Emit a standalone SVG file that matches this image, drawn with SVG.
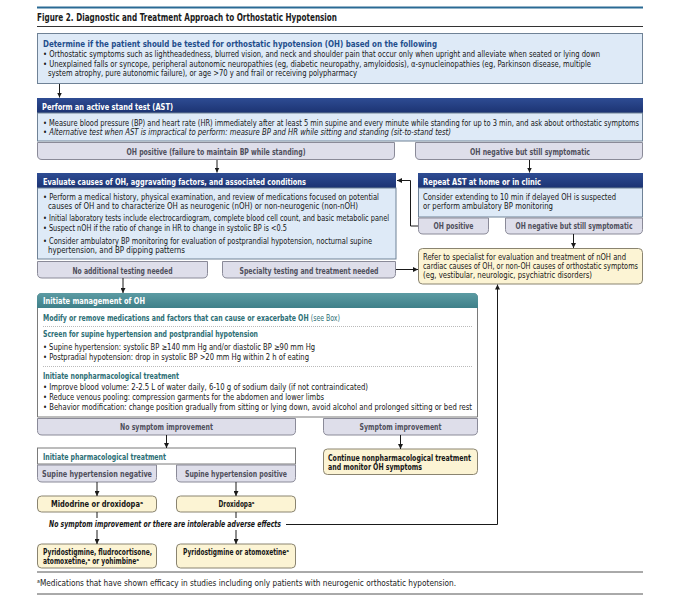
<svg xmlns="http://www.w3.org/2000/svg" width="680" height="610" viewBox="0 0 680 610">
<defs>
<linearGradient id="navy" x1="0" y1="0" x2="0" y2="1"><stop offset="0" stop-color="#2e4c93"/><stop offset="1" stop-color="#1c3372"/></linearGradient>
<linearGradient id="teal" x1="0" y1="0" x2="0" y2="1"><stop offset="0" stop-color="#5c9ba3"/><stop offset="1" stop-color="#3f8089"/></linearGradient>
<marker id="ah" markerWidth="5" markerHeight="5" refX="5" refY="2.5" orient="auto" markerUnits="userSpaceOnUse"><path d="M0,0 L5,2.5 L0,5 Z" fill="#1a1a1a"/></marker>
<style>
text{font-family:"DejaVu Sans Condensed","Liberation Sans Narrow","Liberation Sans",sans-serif;}
.t{font-size:8.2px;fill:#161616;}
.b{font-weight:bold;}
.it{font-style:italic;}
.hw{font-size:9px;font-weight:bold;fill:#ffffff;}
.hb{font-size:9.2px;font-weight:bold;fill:#1f4e8c;}
.tl{font-size:8px;font-weight:bold;fill:#4f4f5c;text-anchor:middle;}
.tg{font-size:8.2px;font-weight:bold;fill:#2d6f76;}
.mid{text-anchor:middle;}
.blue{fill:#deeaf7;stroke:#6f8296;stroke-width:1;}
.tab{fill:#dedeea;stroke:#8a8a98;stroke-width:1;}
.yel{fill:#fcf4d4;stroke:#8a8470;stroke-width:1;}
.wht{fill:#ffffff;stroke:#7a7a7a;stroke-width:1;}
.con{fill:none;stroke:#1a1a1a;stroke-width:1;}
.arr{marker-end:url(#ah);}
.dot{stroke:#a8a8a8;stroke-width:0.8;stroke-dasharray:1,1;}
</style>
</defs>
<rect width="680" height="610" fill="#ffffff"/>

<g id="title">
<line x1="37" y1="7.5" x2="643" y2="7.5" stroke="#2a6a94" stroke-width="1.8"/>
<text x="37" y="20.5" font-size="10" font-weight="bold" fill="#1a1a1a" textLength="300" lengthAdjust="spacingAndGlyphs">Figure 2. Diagnostic and Treatment Approach to Orthostatic Hypotension</text>
<line x1="37" y1="26.5" x2="643" y2="26.5" stroke="#333333" stroke-width="1"/>
</g>

<g id="determine">
<rect class="blue" x="37.5" y="33.5" width="605" height="50"/>
<text class="hb" x="43" y="46.5" textLength="394" lengthAdjust="spacingAndGlyphs">Determine if the patient should be tested for orthostatic hypotension (OH) based on the following</text>
<text class="t" x="43" y="57" textLength="557" lengthAdjust="spacingAndGlyphs">• Orthostatic symptoms such as lightheadedness, blurred vision, and neck and shoulder pain that occur only when upright and alleviate when seated or lying down</text>
<text class="t" x="43" y="66.5" textLength="548" lengthAdjust="spacingAndGlyphs">• Unexplained falls or syncope, peripheral autonomic neuropathies (eg, diabetic neuropathy, amyloidosis), α-synucleinopathies (eg, Parkinson disease, multiple</text>
<text class="t" x="48" y="76" textLength="309" lengthAdjust="spacingAndGlyphs">system atrophy, pure autonomic failure), or age &gt;70 y and frail or receiving polypharmacy</text>
</g>

<g id="ast">
<rect x="37" y="98" width="606" height="15" fill="url(#navy)"/>
<rect class="blue" x="37.5" y="113" width="605" height="28"/>
<text class="hw" x="42" y="109.5" textLength="131" lengthAdjust="spacingAndGlyphs">Perform an active stand test (AST)</text>
<text class="t" x="43" y="126" font-size="7.1" textLength="596" lengthAdjust="spacingAndGlyphs">• Measure blood pressure (BP) and heart rate (HR) immediately after at least 5 min supine and every minute while standing for up to 3 min, and ask about orthostatic symptoms</text>
<text class="t it" x="43" y="135" textLength="408" lengthAdjust="spacingAndGlyphs">• Alternative test when AST is impractical to perform: measure BP and HR while sitting and standing (sit-to-stand test)</text>
</g>

<g id="tab-oh-positive">
<path class="tab" d="M37.5,142.5 H394.5 V155 Q394.5,159.5 390,159.5 H42 Q37.5,159.5 37.5,155 Z"/>
<text class="tl" x="216" y="155" textLength="179" lengthAdjust="spacingAndGlyphs">OH positive (failure to maintain BP while standing)</text>
</g>
<g id="tab-oh-negative">
<path class="tab" d="M415.5,142.5 H642.5 V155 Q642.5,159.5 638,159.5 H420 Q415.5,159.5 415.5,155 Z"/>
<text class="tl" x="530" y="155" textLength="120" lengthAdjust="spacingAndGlyphs">OH negative but still symptomatic</text>
</g>

<g id="evaluate">
<rect x="37" y="173" width="359" height="15" fill="url(#navy)"/>
<rect class="blue" x="37.5" y="188" width="358.5" height="71"/>
<text class="hw" x="43" y="185" textLength="263" lengthAdjust="spacingAndGlyphs">Evaluate causes of OH, aggravating factors, and associated conditions</text>
<text class="t" x="43" y="200" textLength="336" lengthAdjust="spacingAndGlyphs">• Perform a medical history, physical examination, and review of medications focused on potential</text>
<text class="t" x="48" y="209" textLength="310" lengthAdjust="spacingAndGlyphs">causes of OH and to characterize OH as neurogenic (nOH) or non-neurogenic (non-nOH)</text>
<text class="t" x="43" y="221" textLength="346" lengthAdjust="spacingAndGlyphs">• Initial laboratory tests include electrocardiogram, complete blood cell count, and basic metabolic panel</text>
<text class="t" x="43" y="231" textLength="244" lengthAdjust="spacingAndGlyphs">• Suspect nOH if the ratio of change in HR to change in systolic BP is &lt;0.5</text>
<text class="t" x="43" y="244" textLength="329" lengthAdjust="spacingAndGlyphs">• Consider ambulatory BP monitoring for evaluation of postprandial hypotension, nocturnal supine</text>
<text class="t" x="48" y="253" textLength="137" lengthAdjust="spacingAndGlyphs">hypertension, and BP dipping patterns</text>
</g>

<g id="tab-no-additional">
<path class="tab" d="M37.5,261.5 H207.5 V273.5 Q207.5,278 203,278 H42 Q37.5,278 37.5,273.5 Z"/>
<text class="tl" x="122.5" y="274" textLength="100" lengthAdjust="spacingAndGlyphs">No additional testing needed</text>
</g>
<g id="tab-specialty">
<path class="tab" d="M222.5,261.5 H395.5 V273.5 Q395.5,278 391,278 H227 Q222.5,278 222.5,273.5 Z"/>
<text class="tl" x="309" y="274" textLength="139" lengthAdjust="spacingAndGlyphs">Specialty testing and treatment needed</text>
</g>

<g id="repeat-ast">
<rect x="418" y="173" width="225" height="15" fill="url(#navy)"/>
<rect class="blue" x="418.5" y="188" width="224" height="29"/>
<text class="hw" x="423" y="184.5" textLength="118" lengthAdjust="spacingAndGlyphs">Repeat AST at home or in clinic</text>
<text class="t" x="423" y="200" textLength="193" lengthAdjust="spacingAndGlyphs">Consider extending to 10 min if delayed OH is suspected</text>
<text class="t" x="423" y="209" textLength="130" lengthAdjust="spacingAndGlyphs">or perform ambulatory BP monitoring</text>
</g>
<g id="tab-repeat-positive">
<path class="tab" d="M418.5,218 H488.5 V229.5 Q488.5,234 484,234 H423 Q418.5,234 418.5,229.5 Z"/>
<text class="tl" x="453.5" y="229" textLength="40" lengthAdjust="spacingAndGlyphs">OH positive</text>
</g>
<g id="tab-repeat-negative">
<path class="tab" d="M505.5,218 H642.5 V229.5 Q642.5,234 638,234 H510 Q505.5,234 505.5,229.5 Z"/>
<text class="tl" x="574" y="229" textLength="117" lengthAdjust="spacingAndGlyphs">OH negative but still symptomatic</text>
</g>

<g id="refer">
<rect class="yel" x="418.5" y="248.5" width="224" height="35.5" rx="4"/>
<text class="t" x="423" y="260" textLength="203" lengthAdjust="spacingAndGlyphs">Refer to specialist for evaluation and treatment of nOH and</text>
<text class="t" x="423" y="269" textLength="215" lengthAdjust="spacingAndGlyphs">cardiac causes of OH, or non-OH causes of orthostatic symptoms</text>
<text class="t" x="423" y="278" textLength="169" lengthAdjust="spacingAndGlyphs">(eg, vestibular, neurologic, psychiatric disorders)</text>
</g>

<g id="management">
<path class="wht" d="M37.5,417 V298 Q37.5,293.5 42,293.5 H473 Q477.5,293.5 477.5,298 V417 Z"/>
<path d="M37,308 V298 Q37,293 42,293 H473 Q478,293 478,298 V308 Z" fill="url(#teal)"/>
<text class="hw" x="43" y="304" textLength="102" lengthAdjust="spacingAndGlyphs">Initiate management of OH</text>
<text class="tg" x="43" y="321" textLength="297" lengthAdjust="spacingAndGlyphs">Modify or remove medications and factors that can cause or exacerbate OH <tspan font-weight="normal">(see Box)</tspan></text>
<line class="dot" x1="43" y1="326.5" x2="473" y2="326.5"/>
<text class="tg" x="43" y="337" textLength="215" lengthAdjust="spacingAndGlyphs">Screen for supine hypertension and postprandial hypotension</text>
<text class="t" x="43" y="350" textLength="272" lengthAdjust="spacingAndGlyphs">• Supine hypertension: systolic BP ≥140 mm Hg and/or diastolic BP ≥90 mm Hg</text>
<text class="t" x="43" y="360" textLength="266" lengthAdjust="spacingAndGlyphs">• Postpradial hypotension: drop in systolic BP &gt;20 mm Hg within 2 h of eating</text>
<line class="dot" x1="43" y1="366.5" x2="473" y2="366.5"/>
<text class="tg" x="43" y="379" textLength="136" lengthAdjust="spacingAndGlyphs">Initiate nonpharmacological treatment</text>
<text class="t" x="43" y="390" textLength="325" lengthAdjust="spacingAndGlyphs">• Improve blood volume: 2-2.5 L of water daily, 6-10 g of sodium daily (if not contraindicated)</text>
<text class="t" x="43" y="400" textLength="281" lengthAdjust="spacingAndGlyphs">• Reduce venous pooling: compression garments for the abdomen and lower limbs</text>
<text class="t" x="43" y="410" textLength="429" lengthAdjust="spacingAndGlyphs">• Behavior modification: change position gradually from sitting or lying down, avoid alcohol and prolonged sitting or bed rest</text>
</g>

<g id="tab-no-improvement">
<path class="tab" d="M37.5,418.5 H295.5 V430.5 Q295.5,435 291,435 H42 Q37.5,435 37.5,430.5 Z"/>
<text class="tl" x="166.5" y="430" textLength="93" lengthAdjust="spacingAndGlyphs">No symptom improvement</text>
</g>
<g id="tab-improvement">
<path class="tab" d="M323.5,418.5 H477.5 V430.5 Q477.5,435 473,435 H328 Q323.5,435 323.5,430.5 Z"/>
<text class="tl" x="400.5" y="430" textLength="82" lengthAdjust="spacingAndGlyphs">Symptom improvement</text>
</g>

<g id="continue">
<rect class="yel" x="323.5" y="449" width="154" height="25.5" rx="4"/>
<text class="t b" x="328" y="461" textLength="143" lengthAdjust="spacingAndGlyphs">Continue nonpharmacological treatment</text>
<text class="t b" x="328" y="470" textLength="94" lengthAdjust="spacingAndGlyphs">and monitor OH symptoms</text>
</g>

<g id="pharmacological">
<rect class="wht" x="37.5" y="448" width="258" height="16"/>
<text class="tg" x="43" y="460" textLength="123" lengthAdjust="spacingAndGlyphs">Initiate pharmacological treatment</text>
</g>
<g id="tab-supine-negative">
<path class="tab" d="M37.5,465 H156.5 V477.5 Q156.5,482 152,482 H42 Q37.5,482 37.5,477.5 Z"/>
<text class="tl" x="97" y="477" textLength="110" lengthAdjust="spacingAndGlyphs">Supine hypertension negative</text>
</g>
<g id="tab-supine-positive">
<path class="tab" d="M176.5,465 H295.5 V477.5 Q295.5,482 291,482 H181 Q176.5,482 176.5,477.5 Z"/>
<text class="tl" x="236" y="477" textLength="102" lengthAdjust="spacingAndGlyphs">Supine hypertension positive</text>
</g>

<g id="midodrine">
<rect class="yel" x="37.5" y="496" width="119" height="16" rx="4"/>
<text class="t b mid" x="97" y="507" textLength="92" lengthAdjust="spacingAndGlyphs">Midodrine or droxidopaᵃ</text>
</g>
<g id="droxidopa">
<rect class="yel" x="176.5" y="496" width="119" height="16" rx="4"/>
<text class="t b mid" x="236.5" y="507" textLength="36" lengthAdjust="spacingAndGlyphs">Droxidopaᵃ</text>
</g>

<g id="pyridostigmine-left">
<rect class="yel" x="37.5" y="544" width="119" height="24" rx="4"/>
<text class="t b" x="43" y="555" textLength="109" lengthAdjust="spacingAndGlyphs">Pyridostigmine, fludrocortisone,</text>
<text class="t b" x="43" y="564" textLength="96" lengthAdjust="spacingAndGlyphs">atomoxetine,ᵃ or yohimbineᵃ</text>
</g>
<g id="pyridostigmine-right">
<rect class="yel" x="176.5" y="544" width="119" height="24" rx="4"/>
<text class="t b" x="183" y="555" textLength="106" lengthAdjust="spacingAndGlyphs">Pyridostigmine or atomoxetineᵃ</text>
</g>

<g id="connectors">
<line class="con arr" x1="59.5" y1="84" x2="59.5" y2="97.5"/>
<line class="con arr" x1="217" y1="160" x2="217" y2="172.5"/>
<line class="con arr" x1="529.5" y1="160" x2="529.5" y2="172.5"/>
<polyline class="con arr" points="418,226 410.5,226 410.5,180.5 397,180.5"/>
<line class="con arr" x1="573.5" y1="234" x2="573.5" y2="248"/>
<line class="con arr" x1="396" y1="269.5" x2="418" y2="269.5"/>
<line class="con arr" x1="123" y1="278" x2="123" y2="293"/>
<line class="con arr" x1="166.5" y1="435" x2="166.5" y2="448"/>
<line class="con arr" x1="400.5" y1="435" x2="400.5" y2="449"/>
<line class="con arr" x1="97" y1="482" x2="97" y2="496"/>
<line class="con arr" x1="236" y1="482" x2="236" y2="496"/>
<line class="con" x1="97" y1="512" x2="97" y2="518"/>
<line class="con" x1="236" y1="512" x2="236" y2="518"/>
<polyline class="con arr" points="286,524.5 497.5,524.5 497.5,284.5"/>
<line class="con arr" x1="97" y1="530" x2="97" y2="544"/>
<line class="con arr" x1="236" y1="530" x2="236" y2="544"/>
<text class="t b it mid" x="165" y="527" textLength="232" lengthAdjust="spacingAndGlyphs">No symptom improvement or there are intolerable adverse effects</text>
</g>

<g id="footnote">
<line x1="37" y1="572" x2="643" y2="572" stroke="#555555" stroke-width="1"/>
<text x="37" y="586" font-family="Liberation Sans Narrow, Liberation Sans, DejaVu Sans, sans-serif" font-size="8.5" fill="#1a1a1a" textLength="419" lengthAdjust="spacingAndGlyphs">ᵃMedications that have shown efficacy in studies including only patients with neurogenic orthostatic hypotension.</text>
<line x1="37" y1="594" x2="643" y2="594" stroke="#555555" stroke-width="1"/>
</g>
</svg>
